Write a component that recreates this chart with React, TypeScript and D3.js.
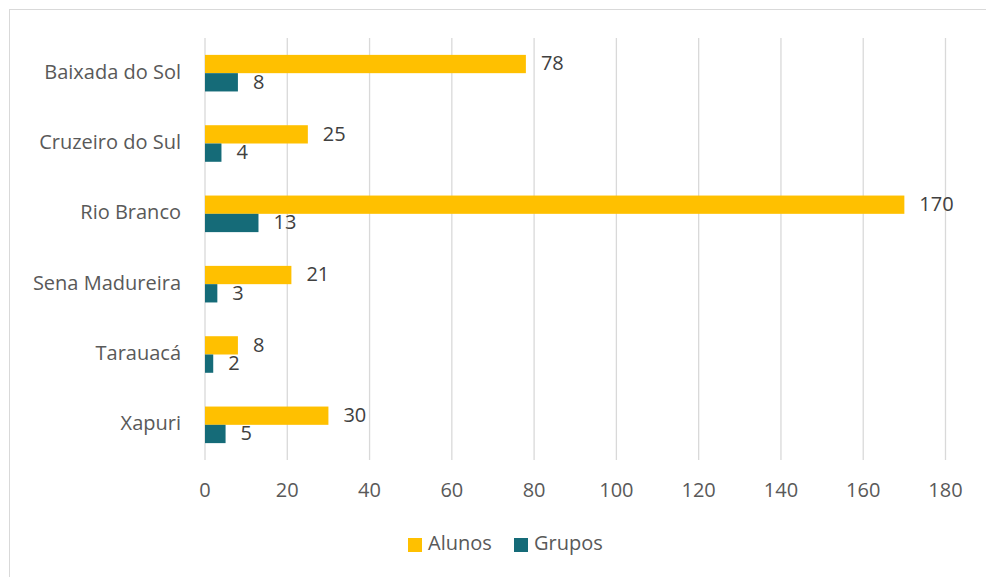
import React from "react";
import * as d3 from "d3";

const categories = ["Baixada do Sol", "Cruzeiro do Sul", "Rio Branco", "Sena Madureira", "Tarauacá", "Xapuri"];
const alunos = [78, 25, 170, 21, 8, 30];
const grupos = [8, 4, 13, 3, 2, 5];
const seriesNames = ["Alunos", "Grupos"];
const ticks = [0, 20, 40, 60, 80, 100, 120, 140, 160, 180];
const colors = ["#FFC000", "#156B78"];

export default function App() {
  const W = 986, H = 577;
  const x = d3.scaleLinear().domain([0, 180]).range([205, 945.5]);
  const y = d3.scaleBand().domain(categories).range([38, 460]).paddingInner(0.48).paddingOuter(0.24);
  const sub = d3.scaleBand().domain(seriesNames).range([0, y.bandwidth()]);
  const font = "'Open Sans', sans-serif";
  const fs = 20;
  const series = [alunos, grupos];
  return (
    <svg width={W} height={H} style={{ position: "absolute", left: 0, top: 0, background: "#fff" }}>
      <rect x={9.5} y={9.5} width={1000} height={700} fill="#fff" stroke="#D9D9D9" strokeWidth={1} />
      {ticks.map(t => (
        <g key={t}>
          <line x1={x(t)} x2={x(t)} y1={38} y2={460} stroke="#D9D9D9" strokeWidth={1.3} />
          <text x={x(t)} y={492} textAnchor="middle" dominantBaseline="middle" fontFamily={font} fontSize={fs} fill="#595959">{t}</text>
        </g>
      ))}
      {categories.map((c, i) => (
        <g key={c}>
          <text x={181} y={(y(c) as number) + y.bandwidth() / 2} textAnchor="end" dominantBaseline="middle" fontFamily={font} fontSize={fs} fill="#595959">{c}</text>
          {series.map((s, j) => {
            const by = (y(c) as number) + (sub(seriesNames[j]) as number);
            return (
              <g key={j}>
                <rect x={x(0)} y={by} width={x(s[i]) - x(0)} height={sub.bandwidth()} fill={colors[j]} />
                <text x={x(s[i]) + 15} y={by + sub.bandwidth() / 2 + 1} dominantBaseline="middle" fontFamily={font} fontSize={fs} fill="#404040">{s[i]}</text>
              </g>
            );
          })}
        </g>
      ))}
      {seriesNames.map((n, j) => {
        const lx = [408, 514][j];
        return (
          <g key={n}>
            <rect x={lx} y={538} width={14} height={14} fill={colors[j]} />
            <text x={lx + 20} y={545} dominantBaseline="middle" fontFamily={font} fontSize={fs} fill="#595959">{n}</text>
          </g>
        );
      })}
    </svg>
  );
}
